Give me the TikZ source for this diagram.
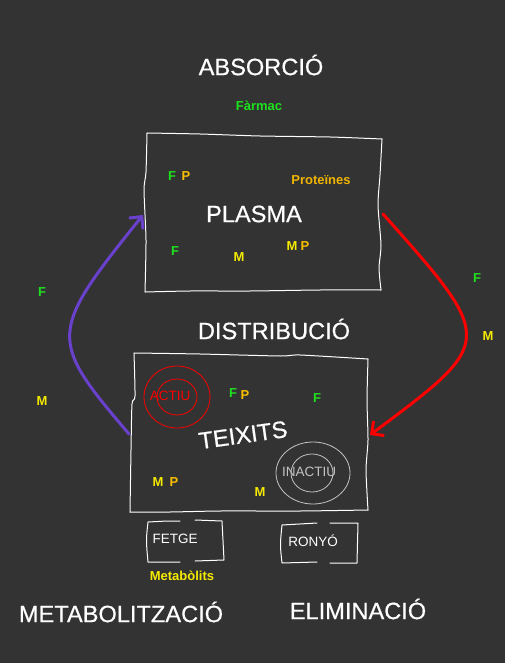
\documentclass[tikz,border=0pt]{standalone}
\usepackage{fontspec}
\setmainfont{Liberation Sans}
\newfontfamily\titlefont[FakeBold=0.6]{Liberation Sans}
\usetikzlibrary{arrows.meta}
\definecolor{board}{RGB}{51,51,51}
\definecolor{cgreen}{RGB}{30,225,30}
\definecolor{cyellow}{RGB}{245,235,0}
\definecolor{corange}{RGB}{250,190,0}
\definecolor{cprot}{RGB}{240,180,0}
\definecolor{cpurple}{RGB}{105,65,205}
\definecolor{cred}{RGB}{250,0,0}
\definecolor{cgray}{RGB}{195,195,195}
\tikzset{
  title/.style={text=white,font=\titlefont\fontsize{23.6}{23.6}\selectfont,inner sep=0pt},
  lab/.style={font=\bfseries\fontsize{13}{13}\selectfont,inner sep=0pt},
  small/.style={text=white,font=\fontsize{13.5}{13.5}\selectfont,inner sep=0pt},
  chalk/.style={draw=white,line width=1pt,line join=round,line cap=round},
  flow/.style={line width=3pt,line cap=round,-{Straight Barb[length=9pt,width=18pt]}},
}
\begin{document}
\begin{tikzpicture}[x=1pt,y=-1pt]
\fill[board] (0,0) rectangle (505,663);
\useasboundingbox (0,0) rectangle (505,663);

% titles
\node[title] (absorcio) at (261,65) {ABSORCIÓ};
\node[lab,text=cgreen] (farmac) at (259,106) {Fàrmac};
\node[title] (distribucio) at (274,329) {DISTRIBUCIÓ};
\node[title] (metab) at (121,612) {METABOLITZACIÓ};
\node[title] (elimin) at (358,609) {ELIMINACIÓ};

% plasma box
\draw[chalk] plot[smooth,tension=0.4] coordinates {(147,133) (200,134) (260,136) (330,137) (382,139)};
\draw[chalk] plot[smooth,tension=0.4] coordinates {(382,139) (380,175) (378,205) (381,245) (379,268) (381,290)};
\draw[chalk] plot[smooth,tension=0.4] coordinates {(381,290) (320,290) (250,291) (190,291) (145,292)};
\draw[chalk] plot[smooth,tension=0.4] coordinates {(145,292) (146,240) (144,190) (146,172) (147,133)};
\node[title] (plasma) at (254,214) {PLASMA};
\node[lab,text=cgreen] (pf1) at (172,176) {F};
\node[lab,text=corange] (pp1) at (186,176) {P};
\node[lab,text=cprot] (prot) at (321,180) {Proteïnes};
\node[lab,text=cgreen] (pf2) at (175,251) {F};
\node[lab,text=cyellow] (pm1) at (239,257) {M};
\node[lab,text=cyellow] (pm2) at (292,246) {M};
\node[lab,text=corange] (pp2) at (305,246) {P};

% teixits box
\draw[chalk] plot[smooth,tension=0.4] coordinates {(134,353) (200,354) (280,356) (300,355) (368,359)};
\draw[chalk] plot[smooth,tension=0.4] coordinates {(368,359) (367,400) (368,440) (366,470) (368,510)};
\draw[chalk] plot[smooth,tension=0.4] coordinates {(368,510) (300,511) (220,511) (170,512) (130,512)};
\draw[chalk] plot[smooth,tension=0.4] coordinates {(130,512) (131,450) (132,404) (135,396) (134,353)};
\node[title,rotate=8] (teixits) at (243,435) {TEIXITS};

\draw[cred,line width=0.8pt] (177,397) ellipse [x radius=33, y radius=31];
\draw[cred,line width=0.8pt] (177,397) ellipse [x radius=20, y radius=18];
\node[small,text=cred] (actiu) at (170,396) {ACTIU};

\draw[cgray,line width=0.8pt] (313,473) ellipse [x radius=37, y radius=31];
\draw[cgray,line width=0.8pt] (312,473) ellipse [x radius=21, y radius=19];
\node[small,text=cgray] (inactiu) at (309,472) {INACTIU};

\node[lab,text=cgreen] (tf1) at (233,393) {F};
\node[lab,text=corange] (tp1) at (245,395) {P};
\node[lab,text=cgreen] (tf2) at (317,398) {F};
\node[lab,text=cyellow] (tm1) at (158,482) {M};
\node[lab,text=corange] (tp2) at (174,482) {P};
\node[lab,text=cyellow] (tm2) at (260,492) {M};

% fetge box
\draw[chalk] (180,521) -- (167,521) -- (148,522) .. controls (146,540) .. (148,562) -- (180,562);
\draw[chalk] (195,520) -- (222,521) -- (224,560) -- (195,561);
\node[small] (fetge) at (175,539) {FETGE};
\node[lab,text=cyellow] (metabolits) at (182,576) {Metabòlits};

% ronyo box
\draw[chalk] (317,523) -- (282,525) .. controls (280,545) .. (282,563) -- (317,562);
\draw[chalk] (330,523) -- (358,523) -- (357,563) -- (330,563);
\node[small] (ronyo) at (313,541) {RONYÓ};

% side labels
\node[lab,text=cgreen] (lf) at (42,292) {F};
\node[lab,text=cyellow] (lm) at (42,401) {M};
\node[lab,text=cgreen] (rf) at (477,278) {F};
\node[lab,text=cyellow] (rm) at (488,336) {M};

% connectors
\coordinate (tOut) at (129,434);
\coordinate (pIn) at (143,215);
\coordinate (pOut) at (383,214);
\coordinate (tIn) at (370,435);
\draw[flow,cpurple] (tOut) .. controls (48,339) and (48,333) .. (pIn);
\draw[flow,cred] (pOut) .. controls (496,341) and (496,341) .. (tIn);
\end{tikzpicture}
\end{document}
